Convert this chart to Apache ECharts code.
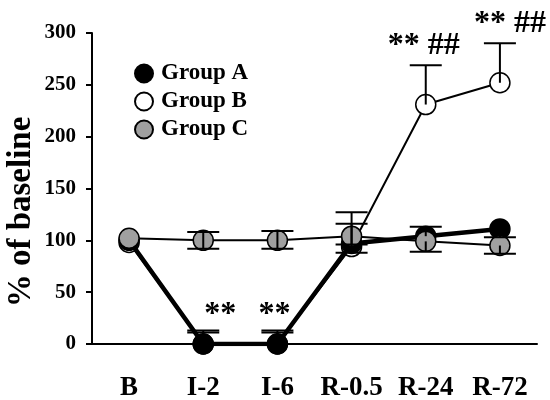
<!DOCTYPE html>
<html><head><meta charset="utf-8">
<script src="https://cdn.jsdelivr.net/npm/echarts@6/dist/echarts.min.js"></script>
<style>html,body{margin:0;padding:0;background:#fff}#c{width:550px;height:400px}</style>
</head><body><div id="c"></div>
<script>
var categories = ['B', 'I-2', 'I-6', 'R-0.5', 'R-24', 'R-72'];
var yTicks = [0, 50, 100, 150, 200, 250, 300];
var groupA = [100, 0, 0, 97, 104, 111];
var groupB = [98, 0, 0, 94, 231, 252];
var groupC = [102, 100, 100, 104, 99, 95];
var errAUp = [0, 13, 13, 0, 9, 0];
var errALow = [0, 0, 0, 0, 0, 8];
var errBUp = [0, 11, 11, 33, 38, 38];
var errBLow = [0, 0, 0, 6, 0, 0];
var errCUp = [0, 8, 9, 12, 0, 0];
var errCLow = [0, 8, 8, 8, 10, 8];
var annotCats = [1, 2, 4, 5];
var annotValues = [28, 28, 288, 309];
var annotTexts = ['**', '**', '** ##', '** ##'];
var yAxisTitle = '% of baseline';

var FONT = '"Liberation Serif", "Times New Roman", serif';
// layout-only horizontal nudges (px) for the annotation labels
var ANNOT_DX = [17, -3, -2, 10];

function errData(vals, up, low) {
  return vals.map(function (v, i) { return [i, v, up[i], low[i]]; });
}
function errRender(params, api) {
  var i = api.value(0), v = api.value(1), up = api.value(2), low = api.value(3);
  if (!up && !low) return null;
  var top = api.coord([i, v + up]);
  var bot = api.coord([i, v - low]);
  var half = 16;
  var st = {stroke: '#000', lineWidth: 2};
  var children = [{type: 'line', shape: {x1: top[0], y1: top[1], x2: bot[0], y2: bot[1]}, style: st}];
  if (up) children.push({type: 'line', shape: {x1: top[0] - half, y1: top[1], x2: top[0] + half, y2: top[1]}, style: st});
  if (low) children.push({type: 'line', shape: {x1: bot[0] - half, y1: bot[1], x2: bot[0] + half, y2: bot[1]}, style: st});
  return {type: 'group', children: children};
}
var annotData = annotCats.map(function (c, i) { return [c, annotValues[i]]; });

var chart = echarts.init(document.getElementById('c'));
chart.setOption({
  animation: false,
  backgroundColor: '#fff',
  grid: {left: 92, right: 13, top: 33, bottom: 56, containLabel: false, outerBoundsMode: 'none'},
  legend: {
    orient: 'vertical', left: 129, top: 57, itemWidth: 18, itemHeight: 18, itemGap: 5,
    icon: 'circle',
    textStyle: {fontFamily: FONT, fontWeight: 'bold', fontSize: 23, color: '#000', padding: [0, 0, 0, 3]},
    data: ['Group A', 'Group B', 'Group C']
  },
  graphic: [{
    type: 'text', x: 21, y: 212, rotation: Math.PI / 2,
    style: {text: yAxisTitle, font: 'bold 33px ' + FONT, fill: '#000', align: 'center', verticalAlign: 'middle'}
  }],
  xAxis: {
    type: 'category', data: categories, boundaryGap: true,
    axisLine: {lineStyle: {color: '#000', width: 2}},
    axisTick: {show: false},
    axisLabel: {fontFamily: FONT, fontWeight: 'bold', fontSize: 27, color: '#000', margin: 31, interval: 0, hideOverlap: false}
  },
  yAxis: {
    type: 'value', min: 0, max: 300, interval: 50,
    axisLine: {show: true, lineStyle: {color: '#000', width: 2}},
    axisTick: {show: true, inside: false, length: 6, lineStyle: {color: '#000', width: 2}},
    axisLabel: {fontFamily: FONT, fontWeight: 'bold', fontSize: 21, color: '#000', margin: 16,
      formatter: function (v) { return yTicks.indexOf(v) >= 0 ? String(v) : ''; }},
    splitLine: {show: false}
  },
  series: [
    {name: 'Group B', type: 'line', data: groupB, symbol: 'circle', symbolSize: 20, z: 3,
      lineStyle: {color: '#000', width: 2}, itemStyle: {color: '#fff', borderColor: '#000', borderWidth: 1.5}},
    {name: 'Group A', type: 'line', data: groupA, symbol: 'circle', symbolSize: 20, z: 4,
      lineStyle: {color: '#000', width: 4.5}, itemStyle: {color: '#000', borderColor: '#000', borderWidth: 1.5}},
    {name: 'Group C', type: 'line', data: groupC, symbol: 'circle', symbolSize: 20, z: 5,
      lineStyle: {color: '#000', width: 2}, itemStyle: {color: '#a0a0a0', borderColor: '#000', borderWidth: 1.5}},
    {type: 'custom', data: errData(groupA, errAUp, errALow), renderItem: errRender, z: 6, silent: true},
    {type: 'custom', data: errData(groupB, errBUp, errBLow), renderItem: errRender, z: 6, silent: true},
    {type: 'custom', data: errData(groupC, errCUp, errCLow), renderItem: errRender, z: 6, silent: true},
    {type: 'custom', data: annotData, z: 7, silent: true, clip: false,
      renderItem: function (params, api) {
        var p = api.coord([api.value(0), api.value(1)]);
        return {type: 'text', x: p[0] + ANNOT_DX[params.dataIndex], y: p[1],
          style: {text: annotTexts[params.dataIndex], x: 0, y: 0,
          align: 'center', verticalAlign: 'middle', fill: '#000',
          font: 'bold 32px ' + FONT}};
      }}
  ]
});
</script></body></html>
